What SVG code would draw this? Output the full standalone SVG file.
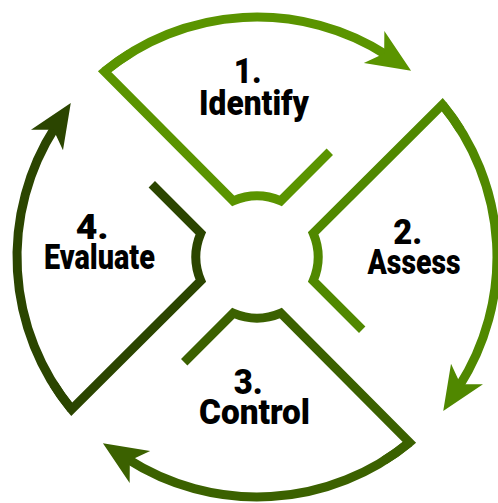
<svg xmlns="http://www.w3.org/2000/svg" width="498" height="503" viewBox="0 0 498 503">
  <style>
    .outline { fill: none; stroke-width: 9; stroke-linejoin: miter; stroke-miterlimit: 8; stroke-linecap: butt; }
    .label { font-family: Roboto, "Liberation Sans", sans-serif; font-weight: 900; font-size: 35px; fill: #000; text-anchor: middle; }
    .s1 { stroke: #5a9400; }
    .s2 { stroke: #508800; }
    .s3 { stroke: #3b6100; }
    .s4 { stroke: #2b4500; }
  </style>
  <defs>
    <!-- stealth arrowheads, notch at origin, tip 32px ahead -->
    <marker id="head1" markerUnits="userSpaceOnUse" orient="auto" refX="3" refY="0" markerWidth="80" markerHeight="80" overflow="visible">
      <path d="M32 0 L-12 -19 L0 0 L-12 19 Z" fill="#5a9400"/>
    </marker>
    <marker id="head2" markerUnits="userSpaceOnUse" orient="auto" refX="3" refY="0" markerWidth="80" markerHeight="80" overflow="visible">
      <path d="M32 0 L-12 -19 L0 0 L-12 19 Z" fill="#508800"/>
    </marker>
    <marker id="head3" markerUnits="userSpaceOnUse" orient="auto" refX="3" refY="0" markerWidth="80" markerHeight="80" overflow="visible">
      <path d="M32 0 L-12 -19 L0 0 L-12 19 Z" fill="#3b6100"/>
    </marker>
    <marker id="head4" markerUnits="userSpaceOnUse" orient="auto" refX="3" refY="0" markerWidth="80" markerHeight="80" overflow="visible">
      <path d="M32 0 L-12 -19 L0 0 L-12 19 Z" fill="#2b4500"/>
    </marker>
    <!-- one quadrant outline: stub, inner arc, diagonal edge and the start of the outer rim -->
    <path id="quadrant" d="M329.8 151.8 L280.8 200.8 A61 61 0 0 0 233.2 200.8 L104.6 71.6 A240 240 0 0 1 129.8 53.5"/>
  </defs>

  <rect width="498" height="503" fill="#fff"/>

  <g id="identify">
    <use href="#quadrant" class="outline s1"/>
    <text class="label">
      <tspan x="252" y="83" textLength="28" lengthAdjust="spacingAndGlyphs">1.</tspan>
      <tspan x="254" y="115" textLength="110" lengthAdjust="spacingAndGlyphs">Identify</tspan>
    </text>
  </g>

  <g id="assess">
    <use href="#quadrant" class="outline s2" transform="rotate(90 257 257)"/>
    <text class="label">
      <tspan x="412" y="244" textLength="29" lengthAdjust="spacingAndGlyphs">2.</tspan>
      <tspan x="414" y="274" textLength="93" lengthAdjust="spacingAndGlyphs">Assess</tspan>
    </text>
  </g>

  <g id="control">
    <use href="#quadrant" class="outline s3" transform="rotate(180 257 257)"/>
    <text class="label">
      <tspan x="252.5" y="394" textLength="29" lengthAdjust="spacingAndGlyphs">3.</tspan>
      <tspan x="254.5" y="424" textLength="111" lengthAdjust="spacingAndGlyphs">Control</tspan>
    </text>
  </g>

  <g id="evaluate">
    <use href="#quadrant" class="outline s4" transform="rotate(270 257 257)"/>
    <text class="label">
      <tspan x="96.5" y="239" textLength="33" lengthAdjust="spacingAndGlyphs">4.</tspan>
      <tspan x="99.5" y="269" textLength="111" lengthAdjust="spacingAndGlyphs">Evaluate</tspan>
    </text>
  </g>

  <g id="connectors">
    <path class="outline s1" d="M104.6 71.6 A240 240 0 0 1 386.7 55.1" marker-end="url(#head1)"/>
    <path class="outline s2" d="M104.6 71.6 A240 240 0 0 1 386.7 55.1" marker-end="url(#head2)" transform="rotate(90 257 257)"/>
    <path class="outline s3" d="M104.6 71.6 A240 240 0 0 1 386.7 55.1" marker-end="url(#head3)" transform="rotate(180 257 257)"/>
    <path class="outline s4" d="M104.6 71.6 A240 240 0 0 1 386.7 55.1" marker-end="url(#head4)" transform="rotate(270 257 257)"/>
  </g>
</svg>
